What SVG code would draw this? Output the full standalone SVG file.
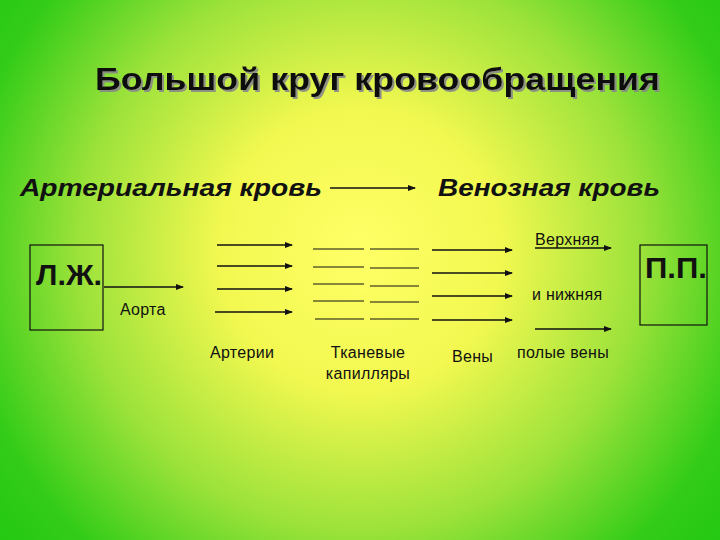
<svg xmlns="http://www.w3.org/2000/svg" width="720" height="540" viewBox="0 0 720 540">
<defs>
<radialGradient id="bg" cx="360" cy="250" r="470" gradientUnits="userSpaceOnUse">
<stop offset="0" stop-color="#ffff66"/><stop offset="0.3" stop-color="#f2f850"/><stop offset="0.6" stop-color="#9be23a"/><stop offset="0.85" stop-color="#33cc18"/><stop offset="1" stop-color="#22c811"/>
</radialGradient>
<filter id="sh" x="-5%" y="-30%" width="110%" height="160%"><feDropShadow dx="2" dy="2" stdDeviation="0.5" flood-color="#888" flood-opacity="0.9"/></filter>
<marker id="ah" markerWidth="8" markerHeight="6" refX="7" refY="3" orient="auto" markerUnits="userSpaceOnUse"><path d="M0,0 L8,3 L0,6 Z" fill="#111"/></marker>
<style>
text{font-family:"Liberation Sans",Arial,sans-serif;fill:#111}
.a{stroke:#111;stroke-width:1.3;marker-end:url(#ah)}
.l{stroke:#111;stroke-width:1}
.box{fill:none;stroke:#111;stroke-width:1.2}
.s{font-size:16px;letter-spacing:0.3px}
</style>
</defs>
<rect width="720" height="540" fill="url(#bg)"/>
<text x="95" y="90" font-size="32" font-weight="bold" textLength="565" lengthAdjust="spacingAndGlyphs" filter="url(#sh)">Большой круг кровообращения</text>
<text x="20" y="196" font-size="23" font-style="italic" font-weight="bold" textLength="302" lengthAdjust="spacingAndGlyphs">Артериальная кровь</text>
<text x="438" y="196" font-size="23" font-style="italic" font-weight="bold" textLength="222" lengthAdjust="spacingAndGlyphs">Венозная кровь</text>
<g id="lz"><rect class="box" x="30" y="245" width="73" height="85"/><text x="36" y="285" font-size="29" font-weight="bold" textLength="66" lengthAdjust="spacingAndGlyphs">Л.Ж.</text></g>
<g id="pp"><rect class="box" x="640" y="245" width="67" height="80"/><text x="645" y="278" font-size="29" font-weight="bold" textLength="62" lengthAdjust="spacingAndGlyphs">П.П.</text></g>
<text class="s" x="120" y="315">Аорта</text>
<text class="s" x="210" y="358">Артерии</text>
<text class="s" x="368" y="358" text-anchor="middle">Тканевые</text>
<text class="s" x="368" y="379" text-anchor="middle">капилляры</text>
<text class="s" x="452" y="362">Вены</text>
<text class="s" x="517" y="358">полые вены</text>
<text class="s" x="535" y="245">Верхняя</text>
<text class="s" x="532" y="300">и нижняя</text>
<g id="connectors">
<line class="a" x1="330" y1="188" x2="415" y2="188"/>
<line class="a" x1="104" y1="287" x2="183" y2="287"/>
<line class="a" x1="217" y1="245" x2="292" y2="245"/>
<line class="a" x1="217" y1="266" x2="292" y2="266"/>
<line class="a" x1="217" y1="289" x2="292" y2="289" stroke-width="2"/>
<line class="a" x1="215" y1="312" x2="292" y2="312"/>
<line class="l" x1="313" y1="249" x2="364" y2="249"/><line class="l" x1="370" y1="249" x2="419" y2="249"/>
<line class="l" x1="313" y1="267" x2="364" y2="267"/><line class="l" x1="370" y1="268" x2="419" y2="268"/>
<line class="l" x1="313" y1="284" x2="364" y2="284"/><line class="l" x1="370" y1="286" x2="419" y2="286"/>
<line class="l" x1="313" y1="301" x2="364" y2="301"/><line class="l" x1="370" y1="302" x2="419" y2="302"/>
<line class="l" x1="315" y1="319" x2="364" y2="319"/><line class="l" x1="370" y1="319" x2="419" y2="319"/>
<line class="a" x1="432" y1="250" x2="512" y2="250" stroke-width="2"/>
<line class="a" x1="432" y1="273" x2="512" y2="273"/>
<line class="a" x1="432" y1="296" x2="512" y2="296" stroke-width="2"/>
<line class="a" x1="432" y1="320" x2="512" y2="320" stroke-width="2"/>
<line class="a" x1="535" y1="248" x2="611" y2="248" stroke-width="2"/>
<line class="a" x1="535" y1="329" x2="611" y2="329" stroke-width="2"/>
</g>
</svg>
